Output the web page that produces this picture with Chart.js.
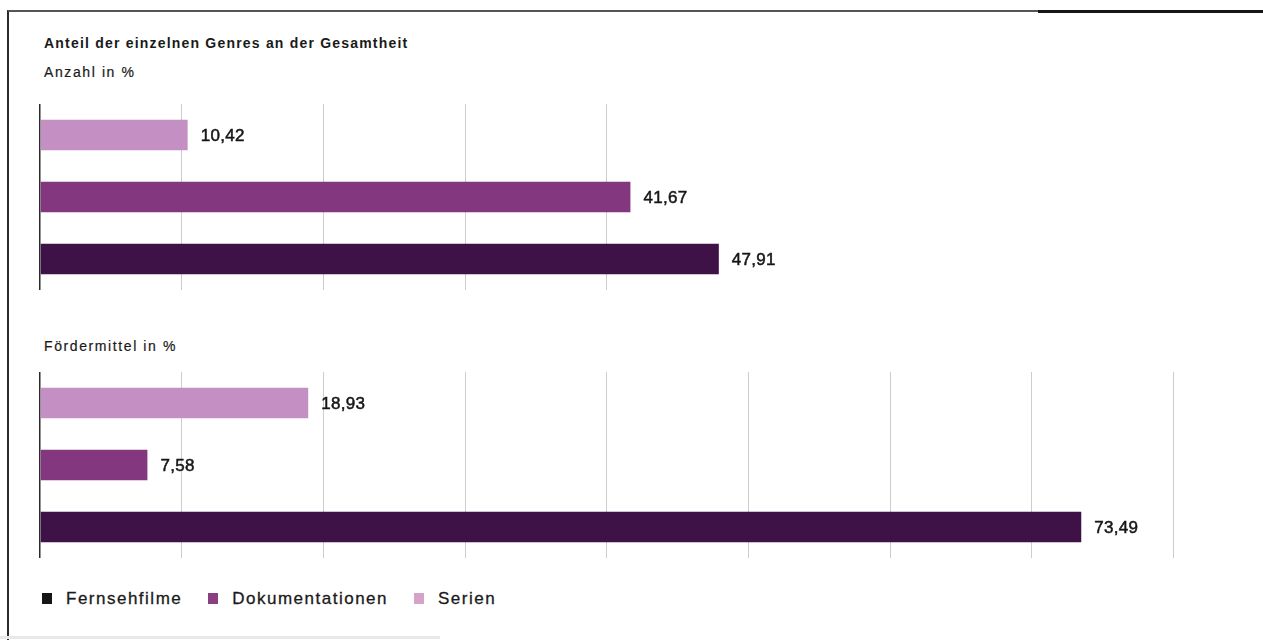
<!DOCTYPE html>
<html lang="de">
<head>
<meta charset="utf-8">
<title>Anteil der einzelnen Genres an der Gesamtheit</title>
<script src="https://cdn.jsdelivr.net/npm/chart.js@4.4.1/dist/chart.umd.min.js"></script>
<style>
    html, body {
        margin: 0;
        padding: 0;
        background: #fff;
    }
    body {
        position: relative;
        width: 1263px;
        height: 640px;
        overflow: hidden;
        font-family: "Liberation Sans", Arial, Helvetica, sans-serif;
        color: #1a1a1a;
    }
    .rahmen {
        position: absolute;
        left: 7px;
        top: 10px;
        right: 0;
        bottom: -10px;
        border-left: 2px solid #2a2a2a;
        border-top: 2px solid #555;
    }
    .rahmen-dick {
        position: absolute;
        left: 1038px;
        top: 10px;
        width: 225px;
        height: 3px;
        background: #161616;
    }
    .fusslinie {
        position: absolute;
        left: 0;
        top: 636px;
        width: 440px;
        height: 3px;
        background: #e8e8e8;
    }
    .text {
        position: absolute;
        left: 44px;
        font-size: 14px;
        line-height: 14px;
        letter-spacing: 1.6px;
        white-space: nowrap;
        -webkit-text-stroke: 0.2px #1a1a1a;
    }
    .titel {
        top: 36px;
        font-weight: bold;
        letter-spacing: 1.2px;
        -webkit-text-stroke: 0;
    }
    canvas {
        position: absolute;
        left: 0;
    }
    #legende {
        position: absolute;
        left: 42px;
        top: 590px;
        display: flex;
        align-items: center;
        font-size: 17px;
        line-height: 17px;
        letter-spacing: 1.5px;
        white-space: nowrap;
        -webkit-text-stroke: 0.3px #1a1a1a;
    }
    #legende .eintrag {
        display: flex;
        align-items: center;
        margin-right: 26px;
    }
    #legende .kasten {
        width: 10px;
        height: 11px;
        margin-right: 14px;
    }
</style>
</head>
<body>
<div class="rahmen"></div>
<div class="rahmen-dick"></div>
<div class="fusslinie"></div>

<div class="text titel">Anteil der einzelnen Genres an der Gesamtheit</div>
<div class="text" style="top: 65px;">Anzahl in %</div>
<canvas id="anzahlChart" width="1263" height="196" style="top: 100px;"></canvas>

<div class="text" style="top: 339px;">Fördermittel in %</div>
<canvas id="foerderChart" width="1263" height="196" style="top: 368px;"></canvas>

<div id="legende"></div>

<script>
// Genres von oben nach unten
const genres = ['Serien', 'Dokumentationen', 'Fernsehfilme'];

// Anteile in Prozent
const anzahlProzent = [10.42, 41.67, 47.91];
const foerdermittelProzent = [18.93, 7.58, 73.49];

// Achse 0 bis 80 in Zehnerschritten
const achseMax = 80;
const achseSchritt = 10;

const balkenFarben = ['#c48fc3', '#82377f', '#3e1247'];
const legendenFarben = ['#d6a2c9', '#8a3f81', '#161616'];

// Zahlen mit Komma neben die Balken schreiben
const werteBeschriftung = {
    id: 'werteBeschriftung',
    afterDatasetsDraw(chart) {
        const ctx = chart.ctx;
        const meta = chart.getDatasetMeta(0);
        const werte = chart.data.datasets[0].data;
        ctx.save();
        ctx.font = '17px "Liberation Sans", Arial, sans-serif';
        ctx.fillStyle = '#161616';
        ctx.strokeStyle = '#161616';
        ctx.lineWidth = 0.5;
        ctx.textAlign = 'left';
        ctx.textBaseline = 'middle';
        if ('letterSpacing' in ctx) ctx.letterSpacing = '0.3px';
        meta.data.forEach((bar, i) => {
            const text = werte[i].toFixed(2).replace('.', ',');
            ctx.fillText(text, bar.x + 13, bar.y + 1);
            ctx.strokeText(text, bar.x + 13, bar.y + 1);
        });
        ctx.restore();
    }
};

function baueChart(id, werte, gitterBis) {
    return new Chart(document.getElementById(id), {
        type: 'bar',
        data: {
            labels: genres,
            datasets: [{
                data: werte,
                backgroundColor: balkenFarben,
                borderWidth: 0,
                barPercentage: 1,
                categoryPercentage: 0.49
            }]
        },
        options: {
            indexAxis: 'y',
            responsive: false,
            animation: false,
            layout: {
                padding: { left: 40, right: 1263 - 40 - 1133.5, top: 4, bottom: 6 }
            },
            plugins: {
                legend: { display: false },
                tooltip: { enabled: false }
            },
            scales: {
                x: {
                    min: 0,
                    max: achseMax,
                    ticks: { display: false, stepSize: achseSchritt },
                    border: { display: false },
                    grid: {
                        drawTicks: false,
                        color: c => {
                            if (c.tick.value === 0) return '#2b2b2b';
                            if (c.tick.value > gitterBis) return 'rgba(0,0,0,0)';
                            return '#cdcdcd';
                        },
                        lineWidth: c => c.tick.value === 0 ? 1.5 : 1
                    }
                },
                y: {
                    display: false
                }
            }
        },
        plugins: [werteBeschriftung]
    });
}

baueChart('anzahlChart', anzahlProzent, 40);
baueChart('foerderChart', foerdermittelProzent, achseMax);

// Legende: Fernsehfilme, Dokumentationen, Serien
const legende = document.getElementById('legende');
genres.slice().reverse().forEach(name => {
    const i = genres.indexOf(name);
    legende.innerHTML += `
        <div class="eintrag">
            <div class="kasten" style="background:${legendenFarben[i]}"></div>
            <span>${name}</span>
        </div>`;
});
</script>
</body>
</html>
